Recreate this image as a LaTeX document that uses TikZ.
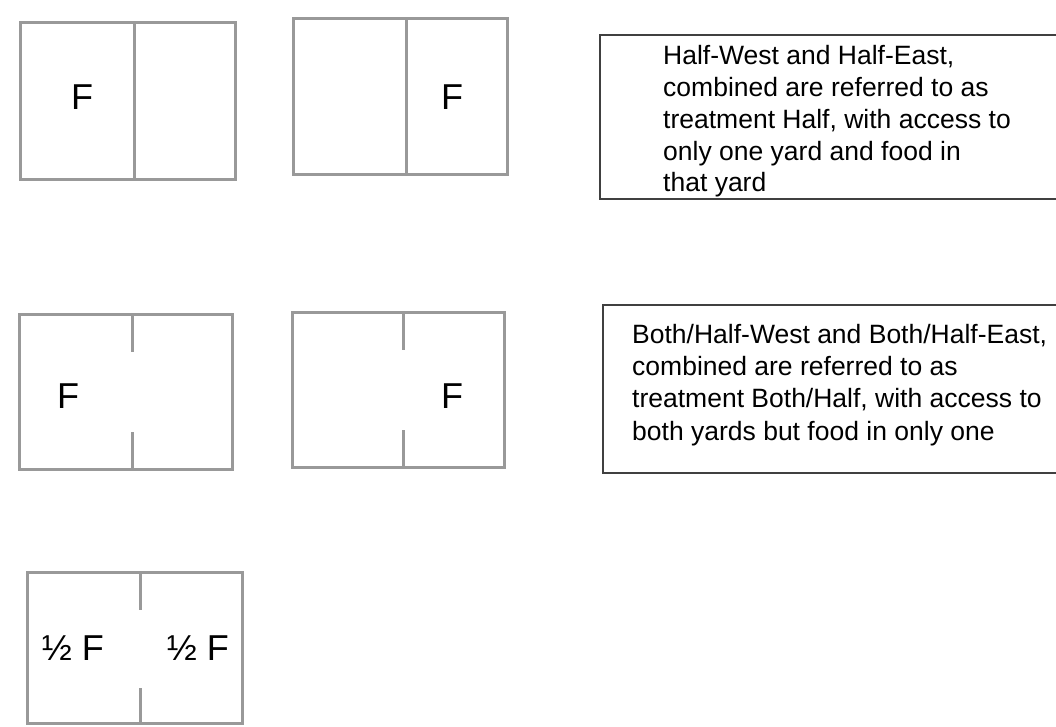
\documentclass[tikz,border=0pt]{standalone}
\usepackage{fontspec}
\setmainfont{Liberation Sans}
\begin{document}
\begin{tikzpicture}[x=1pt,y=-1pt,
  pen/.style={draw=black!40, line width=3pt},
  note/.style={draw=black!75, line width=1.8pt},
  food/.style={font=\fontsize{36}{40}\selectfont, inner sep=0pt},
  caption/.style={font=\fontsize{26.5}{31.8}\selectfont, align=left, inner sep=0pt, anchor=base west}]
\useasboundingbox (0,0) rectangle (1056,727);
\clip (0,0) rectangle (1056,727);
% pens split by a closed wall
\foreach \xa/\ya/\xb/\yb/\xm in {20/23/235/180/134, 293/19/507/175/406} {
  \draw[pen] (\xa,\ya) rectangle (\xb,\yb);
  \draw[pen] (\xm,\ya) -- (\xm,\yb);
}
% pens with an open wall
\foreach \xa/\ya/\xb/\yb/\xm/\ga/\gb in {19/314/232/469/132/352/432, 292/312/504/467/403/350/430, 27/572/242/723/140/610/688} {
  \draw[pen] (\xa,\ya) rectangle (\xb,\yb);
  \draw[pen] (\xm,\ya) -- (\xm,\ga) (\xm,\gb) -- (\xm,\yb);
}
\node[food] (halfW) at (82,97) {F};
\node[food] (halfE) at (452,97) {F};
\node[food] (bothW) at (68,396) {F};
\node[food] (bothE) at (452,396) {F};
\node[food] (splitW) at (73,648) {½ F};
\node[food] (splitE) at (198,648) {½ F};
% captions (base anchor sits on the last line)
\draw[note] (600,35) rectangle (1070,199);
\node[caption] (capHalf) at (663,192) {Half-West and Half-East,\\combined are referred to as\\treatment Half, with access to\\only one yard and food in\\that yard};
\draw[note] (603,305) rectangle (1070,473);
\node[caption, font=\fontsize{26.5}{32.3}\selectfont] (capBoth) at (632,440) {Both/Half-West and Both/Half-East,\\combined are referred to as\\treatment Both/Half, with access to\\both yards but food in only one};
\end{tikzpicture}
\end{document}
